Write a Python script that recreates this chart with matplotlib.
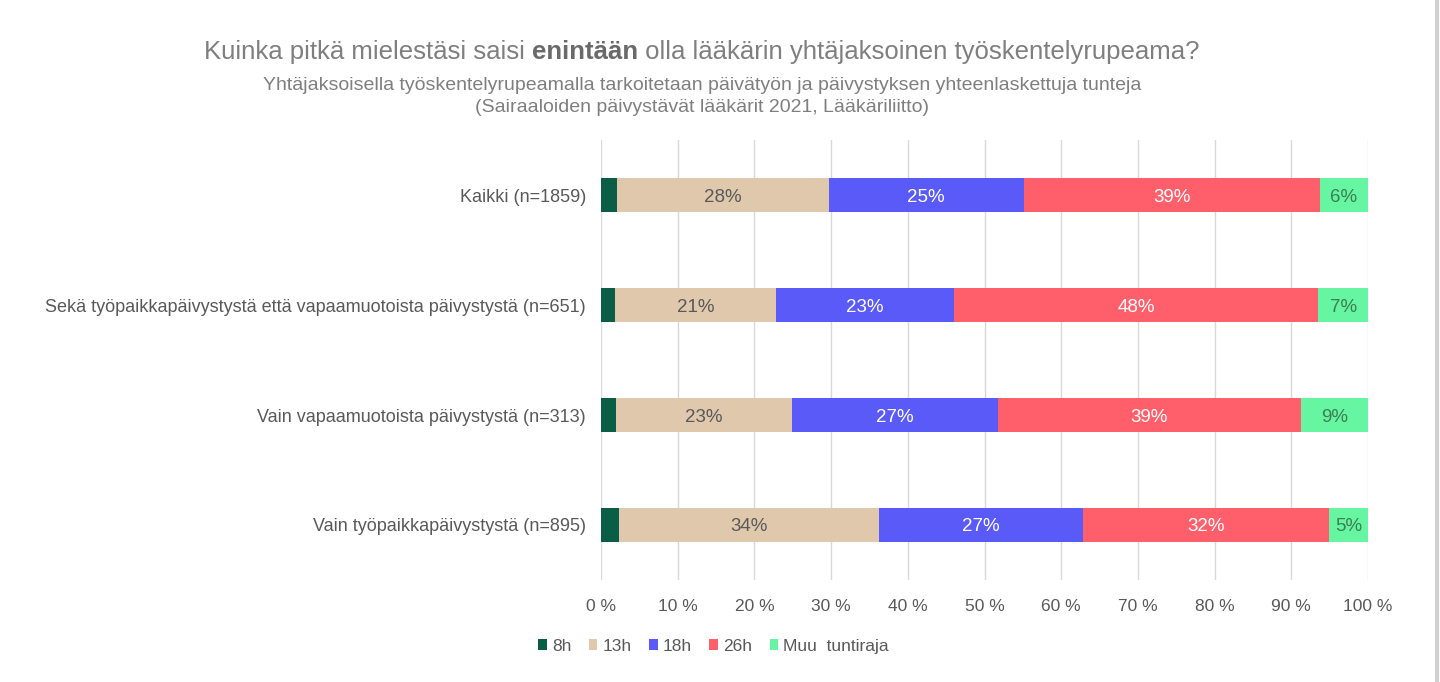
import matplotlib
matplotlib.use("Agg")
import matplotlib.pyplot as plt
from matplotlib.patches import Patch
from matplotlib.lines import Line2D
import numpy as np

categories = ["Kaikki (n=1859)",
              "Sekä työpaikkapäivystystä että vapaamuotoista päivystystä (n=651)",
              "Vain vapaamuotoista päivystystä (n=313)",
              "Vain työpaikkapäivystystä (n=895)"]
series_names = ["8h", "13h", "18h", "26h", "Muu  tuntiraja"]
v_8h = [2.1, 1.8, 2.0, 2.3]
v_13h = [27.6, 21.0, 22.9, 33.9]
v_18h = [25.4, 23.2, 26.9, 26.6]
v_26h = [38.6, 47.5, 39.4, 32.1]
v_muu = [6.3, 6.5, 8.8, 5.1]
labels_13h = ["28%", "21%", "23%", "34%"]
labels_18h = ["25%", "23%", "27%", "27%"]
labels_26h = ["39%", "48%", "39%", "32%"]
labels_muu = ["6%", "7%", "9%", "5%"]
xticks = [0, 10, 20, 30, 40, 50, 60, 70, 80, 90, 100]
xticklabels = [f"{t} %" for t in xticks]

colors = ["#0B5E46", "#DFC8AC", "#5A5AF8", "#FF5F6B", "#66F5A0"]
label_colors = [None, "#595959", "white", "white", "#3C7F55"]

plt.rcParams['font.family'] = ['Liberation Sans', 'DejaVu Sans']
fig = plt.figure(figsize=(14.4, 6.82), dpi=100)
ax = fig.add_axes([0.4174, 0.1496, 0.5326, 0.645])

series = [v_8h, v_13h, v_18h, v_26h, v_muu]
texts = [None, labels_13h, labels_18h, labels_26h, labels_muu]
y = np.arange(len(categories))
left = np.zeros(len(categories))
for vals, col, lab, lc in zip(series, colors, texts, label_colors):
    vals = np.array(vals)
    ax.barh(y, vals, left=left, height=0.31, color=col, zorder=3)
    if lab is not None:
        for yi, (l, v, t) in enumerate(zip(left, vals, lab)):
            ax.text(l + v / 2, yi, t, ha='center', va='center_baseline',
                    fontsize=13.5, color=lc, zorder=4)
    left = left + vals

ax.set_ylim(3.5, -0.5)
ax.set_xlim(0, 100)
ax.set_yticks(y)
ax.set_yticklabels(categories, fontsize=13, color="#595959")
ax.set_xticks(xticks)
ax.set_xticklabels(xticklabels, fontsize=12.5, color="#595959")
ax.tick_params(axis='both', length=0)
ax.tick_params(axis='y', pad=11)
ax.tick_params(axis='x', pad=14)
for s in ax.spines.values():
    s.set_visible(False)
ax.grid(axis='x', color="#D9D9D9", linewidth=1, zorder=0)
ax.set_axisbelow(True)

# Title with bold word
fig.canvas.draw()
renderer = fig.canvas.get_renderer()
parts = [("Kuinka pitkä mielestäsi saisi ", "normal", "#7F7F7F"),
         ("enintään", "bold", "#6A6A6A"),
         (" olla lääkärin yhtäjaksoinen työskentelyrupeama?", "normal", "#7F7F7F")]
tcol = "#7F7F7F"
tobjs = []
for s, w, c in parts:
    t = fig.text(0, 0.924, s, fontsize=18.5, color=c, weight=w,
                 va='center', ha='left')
    tobjs.append(t)
widths = [t.get_window_extent(renderer).width for t in tobjs]
total = sum(widths)
x0 = 0.4875 * 1440 - total / 2
for t, w in zip(tobjs, widths):
    t.set_x(x0 / 1440)
    x0 += w

fig.text(0.4875, 0.875, "Yhtäjaksoisella työskentelyrupeamalla tarkoitetaan päivätyön ja päivystyksen yhteenlaskettuja tunteja",
         fontsize=14, color=tcol, ha='center', va='center')
fig.text(0.4875, 0.843, "(Sairaaloiden päivystävät lääkärit 2021, Lääkäriliitto)",
         fontsize=14, color=tcol, ha='center', va='center')

handles = [Patch(facecolor=c, edgecolor='none') for c in colors]
fig.legend(handles, series_names, loc='center', bbox_to_anchor=(0.4955, 0.052),
           ncol=5, frameon=False, fontsize=12.5, handlelength=0.5,
           handleheight=0.6, handletextpad=0.3, columnspacing=1.0,
           labelcolor="#595959")

fig.add_artist(Line2D([0.998, 0.998], [0, 1], color="#D0D0D0", linewidth=3,
                      transform=fig.transFigure))

fig.savefig("out.png", dpi=100)
